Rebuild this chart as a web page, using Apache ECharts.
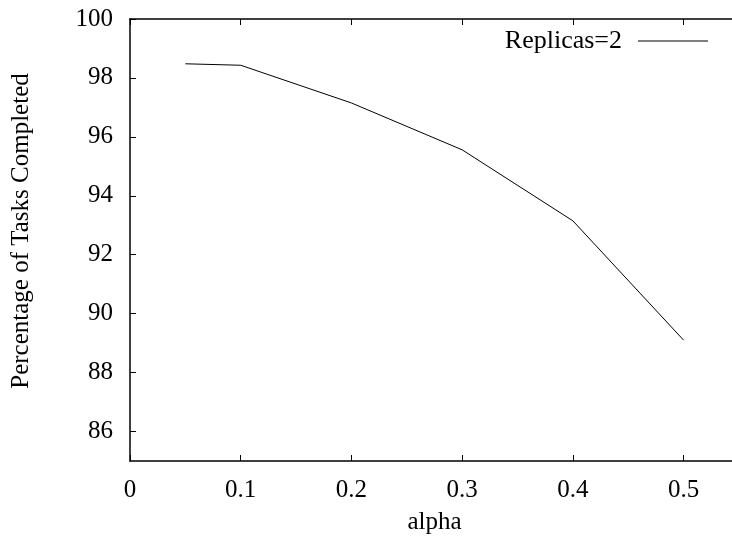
<!DOCTYPE html>
<html>
<head>
<meta charset="utf-8">
<script src="https://cdn.jsdelivr.net/npm/echarts@6/dist/echarts.min.js"></script>
<style>
  html, body { margin: 0; padding: 0; background: #fff; }
  #chart { width: 732px; height: 539px; }
</style>
</head>
<body>
<div id="chart"></div>
<script>
// data
const alphaValues = [0.05, 0.1, 0.2, 0.3, 0.4, 0.5];
const completedPct = [98.48, 98.43, 97.15, 95.56, 93.15, 89.1];
const seriesName = 'Replicas=2';

const font = 'Liberation Serif, Times New Roman, serif';
const fs = 25;

const myChart = echarts.init(document.getElementById('chart'));

const tickStyle = { show: true, inside: true, length: 6, lineStyle: { color: '#000', width: 1 } };

const options = {
  animation: false,
  textStyle: { fontFamily: font },
  grid: { left: 130, top: 19, right: -7, bottom: 78, outerBoundsMode: 'none', containLabel: false },
  legend: {
    orient: 'horizontal',
    right: 19,
    top: 23,
    itemWidth: 70,
    itemHeight: 1,
    align: 'right',
    icon: 'rect',
    textStyle: { fontFamily: font, fontSize: 26, color: '#000', padding: [0, 11, 0, 0] },
    data: [{ name: seriesName, itemStyle: { color: '#000' } }],
  },
  xAxis: [
    {
      type: 'value',
      min: 0,
      max: 0.55,
      interval: 0.1,
      name: 'alpha',
      nameLocation: 'middle',
      nameGap: 49,
      nameTextStyle: { fontFamily: font, fontSize: fs, color: '#000' },
      axisLine: { show: true, lineStyle: { color: '#000', width: 1.5 } },
      axisTick: tickStyle,
      axisLabel: { fontFamily: font, fontSize: fs, color: '#000', margin: 17, showMaxLabel: false },
      splitLine: { show: false },
    },
    {
      type: 'value',
      position: 'top',
      min: 0,
      max: 0.55,
      interval: 0.1,
      axisLine: { show: true, lineStyle: { color: '#000', width: 1.5 } },
      axisTick: tickStyle,
      axisLabel: { show: false },
      splitLine: { show: false },
    },
  ],
  yAxis: {
    type: 'value',
    min: 85,
    max: 100,
    splitNumber: 7,
    name: 'Percentage of Tasks Completed',
    nameLocation: 'middle',
    nameGap: 96,
    nameTextStyle: { fontFamily: font, fontSize: fs, color: '#000', padding: [0, 0, 0, 18] },
    axisLine: { show: true, lineStyle: { color: '#000', width: 1.5 } },
    axisTick: tickStyle,
    axisLabel: { fontFamily: font, fontSize: fs, color: '#000', margin: 17, showMinLabel: false },
    splitLine: { show: false },
  },
  series: [
    {
      name: seriesName,
      type: 'line',
      data: alphaValues.map((a, i) => [a, completedPct[i]]),
      showSymbol: false,
      lineStyle: { color: '#000', width: 1 },
      itemStyle: { color: '#000' },
    },
  ],
};

myChart.setOption(options);
</script>
</body>
</html>
